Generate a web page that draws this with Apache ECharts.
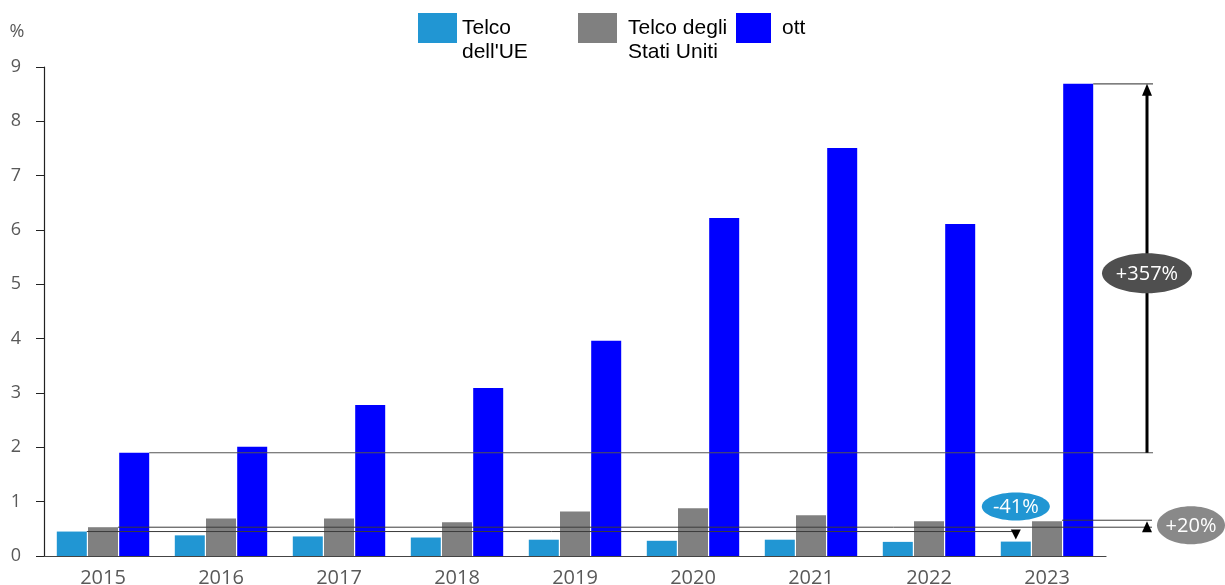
<!DOCTYPE html>
<html>
<head>
<meta charset="utf-8">
<script src="https://cdn.jsdelivr.net/npm/echarts@6/dist/echarts.min.js"></script>
<style>
  html, body { margin: 0; padding: 0; background: #fff; }
  #chart { width: 1225px; height: 585px; }
</style>
</head>
<body>
<div id="chart"></div>
<script>
// Categories and values (%)
const years = ['2015', '2016', '2017', '2018', '2019', '2020', '2021', '2022', '2023'];
const telcoUE = [0.45, 0.38, 0.36, 0.34, 0.30, 0.28, 0.30, 0.26, 0.265];
const telcoUSA = [0.53, 0.69, 0.69, 0.62, 0.82, 0.88, 0.75, 0.64, 0.64];
const ott = [1.90, 2.01, 2.78, 3.09, 3.96, 6.22, 7.51, 6.11, 8.69];

const seriesNames = ["Telco dell'UE", 'Telco degli Stati Uniti', 'ott'];
const legendLabels = ["Telco\ndell'UE", 'Telco degli\nStati Uniti', 'ott'];
const changeLabels = ['-41%', '+20%', '+357%'];
const yMin = 0, yMax = 9, yStep = 1;

const BAR_W = 30;
const BAR_GAP = 0.04;
const COLORS = ['#2196d3', '#808080', '#0000ff'];
const LINE = '#3a3a3a';

// Draws the reference lines, arrows and change bubbles from the first/last values
function renderNotes(params, api) {
  const last = years.length - 1;
  const catW = api.size([1, 0])[0];
  const step = BAR_W * (1 + BAR_GAP);
  const off = [-step, 0, step];
  const c0 = api.coord([0, 0])[0];
  const cN = api.coord([last, 0])[0];
  const y = v => api.coord([0, v])[1];
  const arrowX = cN + catW / 2 + 41;
  const kids = [];
  const hline = (x1, x2, yy, w, col) => kids.push({
    type: 'line', shape: { x1: x1, y1: yy, x2: x2, y2: yy },
    style: { stroke: col || LINE, lineWidth: w || 1 }
  });
  const bubble = (cx, cy, rx, ry, fill, text) => {
    kids.push({ type: 'ellipse', shape: { cx: cx, cy: cy, rx: rx, ry: ry }, style: { fill: fill } });
    kids.push({ type: 'text', x: cx, y: cy + 1, style: {
      text: text, fill: '#fff', font: '20px "Open Sans", sans-serif',
      align: 'center', verticalAlign: 'middle' } });
  };

  // OTT growth
  const yO0 = y(ott[0]), yON = y(ott[last]);
  hline(c0 + off[2] + BAR_W / 2, arrowX + 6, yO0, 1.2, '#555');
  hline(cN + off[2] + BAR_W / 2, arrowX + 6, yON, 1.2, '#555');
  kids.push({ type: 'line', shape: { x1: arrowX, y1: yO0, x2: arrowX, y2: yON + 10 },
    style: { stroke: '#000', lineWidth: 3 } });
  kids.push({ type: 'polygon', shape: { points: [[arrowX - 5, yON + 12], [arrowX + 5, yON + 12], [arrowX, yON]] },
    style: { fill: '#000' } });
  bubble(arrowX, (yO0 + yON) / 2 + 5, 45, 20, '#4f4f4f', changeLabels[2]);

  // US telco growth
  const yU0 = y(telcoUSA[0]), yUN = y(telcoUSA[last]);
  hline(c0 + off[1] + BAR_W / 2, arrowX + 5, yU0);
  hline(cN + off[1] + BAR_W / 2, arrowX + 5, yUN - 1);
  kids.push({ type: 'polygon', shape: { points: [[arrowX - 5, yU0 + 5], [arrowX + 5, yU0 + 5], [arrowX, yUN]] },
    style: { fill: '#000' } });
  bubble(arrowX + 44, (yU0 + yUN) / 2 + 1, 34, 19, '#898989', changeLabels[1]);

  // EU telco decline
  const yE0 = y(telcoUE[0]), yEN = y(telcoUE[last]);
  const ex = cN + off[0];
  hline(c0 + off[0] + BAR_W / 2, ex, yE0);
  kids.push({ type: 'polygon', shape: { points: [[ex - 5, yE0 - 2], [ex + 5, yE0 - 2], [ex, yEN - 2]] },
    style: { fill: '#000' } });
  bubble(ex, yE0 - 25, 34, 14, '#2196d3', changeLabels[0]);

  return { type: 'group', children: kids };
}

// One legend per series so each entry sits at its own spot; a leading blank
// line puts the first text line level with the swatch.
function legendFor(i, left, top, iconW, padLeft) {
  const twoLine = legendLabels[i].indexOf('\n') >= 0;
  return {
    data: [seriesNames[i]], left: left, top: top, padding: 0,
    itemWidth: iconW, itemHeight: 30, selectedMode: false,
    icon: 'rect',
    formatter: () => (twoLine ? '\n' : '') + legendLabels[i],
    textStyle: {
      fontFamily: '"Liberation Sans", Arial, sans-serif', fontSize: 21, color: '#000',
      lineHeight: 24, padding: [0, 0, 0, padLeft]
    }
  };
}

const chart = echarts.init(document.getElementById('chart'));
chart.setOption({
  animation: false,
  backgroundColor: '#fff',
  legend: [
    legendFor(0, 418, -8, 39, 0),
    legendFor(1, 578, -8, 39, 6),
    legendFor(2, 736, 13, 35, 6)
  ],
  grid: { left: 44, right: 119, top: 67, bottom: 29, containLabel: false, outerBoundsMode: 'none' },
  xAxis: {
    type: 'category', data: years,
    axisLine: { lineStyle: { color: '#444', width: 1.2 } },
    axisTick: { show: false },
    axisLabel: { fontFamily: '"Open Sans", sans-serif', fontSize: 20, color: '#595959', margin: 12 }
  },
  yAxis: {
    type: 'value', min: yMin, max: yMax, interval: yStep,
    name: '%', nameLocation: 'end', nameGap: 26,
    nameTextStyle: { fontFamily: '"Open Sans", sans-serif', fontSize: 18, color: '#595959', padding: [0, 54, 0, 0] },
    axisLine: { show: true, lineStyle: { color: '#222', width: 1.2 } },
    axisTick: { show: true, length: 8, lineStyle: { color: '#222' } },
    splitLine: { show: false },
    axisLabel: { fontFamily: '"Open Sans", sans-serif', fontSize: 18, color: '#595959', margin: 23 }
  },
  series: [
    { name: seriesNames[0], type: 'bar', data: telcoUE, barWidth: BAR_W, barGap: (BAR_GAP * 100) + '%', itemStyle: { color: COLORS[0] } },
    { name: seriesNames[1], type: 'bar', data: telcoUSA, barWidth: BAR_W, barGap: (BAR_GAP * 100) + '%', itemStyle: { color: COLORS[1] } },
    { name: seriesNames[2], type: 'bar', data: ott, barWidth: BAR_W, barGap: (BAR_GAP * 100) + '%', itemStyle: { color: COLORS[2] } },
    {
      type: 'custom', coordinateSystem: 'cartesian2d', data: [[0, 0]],
      renderItem: renderNotes, clip: false, silent: true, z: 10
    }
  ]
});
</script>
</body>
</html>
